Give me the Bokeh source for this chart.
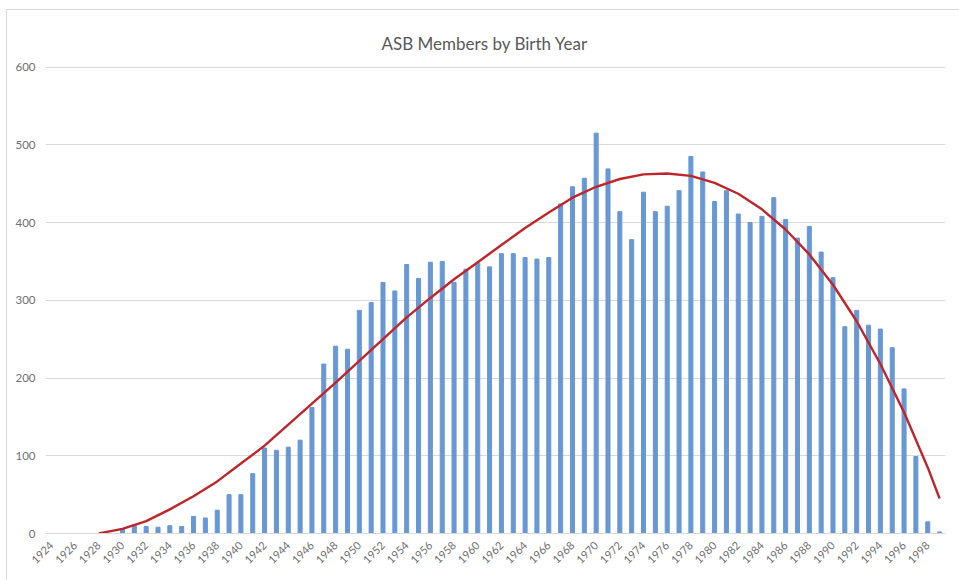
from bokeh.plotting import figure
from bokeh.models import Range1d, FixedTicker
from bokeh.embed import file_html
from bokeh.resources import INLINE

# ---- data ----
years = list(range(1924, 2000))
members = [
    0, 0, 0, 0, 0, 0,            # 1924-1929
    5, 11, 9, 8, 10, 9, 22, 20, 30, 50,          # 1930-1939
    50, 77, 110, 107, 111, 120, 162, 218, 241, 237,  # 1940-1949
    287, 297, 323, 312, 346, 328, 349, 350, 323, 340,  # 1950-1959
    348, 343, 360, 360, 355, 353, 355, 424, 446, 457,  # 1960-1969
    515, 469, 414, 378, 439, 414, 421, 441, 485, 465,  # 1970-1979
    427, 441, 411, 400, 408, 432, 404, 380, 395, 362,  # 1980-1989
    329, 266, 287, 268, 263, 239, 186, 99, 15, 2,      # 1990-1999
]

trend_years = [1928, 1930, 1932, 1934, 1936, 1938, 1940, 1942, 1944, 1946,
               1948, 1950, 1952, 1954, 1956, 1958, 1960, 1962, 1964, 1966,
               1968, 1970, 1972, 1974, 1976, 1978, 1980, 1982, 1984, 1986,
               1988, 1990, 1992, 1994, 1996, 1998, 1999]
trend_values = [0, 6, 16, 31, 48, 67, 90, 113, 140, 167,
                194, 222, 250, 278, 303, 327, 349, 371, 393, 413,
                432, 446, 456, 462, 463, 460, 451, 437, 417, 391,
                359, 320, 273, 218, 156, 85, 45]

y_ticks = [0, 100, 200, 300, 400, 500, 600]
x_ticks = list(range(1924, 2000, 2))

title_text = "ASB Members by Birth Year"

# ---- figure ----
p = figure(width=959, height=580,
           x_range=Range1d(1923.5, 1999.5), y_range=Range1d(0, 602),
           output_backend="svg", toolbar_location=None,
           min_border_left=45, min_border_right=14,
           min_border_top=65, min_border_bottom=47,
           title=title_text)

# light chart-area frame (top and left edges) drawn as CSS background lines
p.styles = {
    "background": ("linear-gradient(#d9d9d9,#d9d9d9) 7px 9px / 100% 1px no-repeat, "
                   "linear-gradient(#d9d9d9,#d9d9d9) 6px 9px / 1px 100% no-repeat, white"),
}

p.vbar(x=years, top=members, width=0.34, color="#6898D4")
p.line(x=trend_years, y=trend_values, color="#BE262C", line_width=2.4)

p.title.align = "left"
p.title.offset = 336
p.title.text_font = "Lato"
p.title.text_font_size = "17px"
p.title.text_font_style = "normal"
p.title.text_color = "#595959"
p.title.standoff = 24

p.outline_line_color = None
p.background_fill_color = "white"
p.border_fill_color = None

p.xgrid.grid_line_color = None
p.ygrid.grid_line_color = "#d9d9d9"
p.ygrid.grid_line_width = 1

p.yaxis.ticker = FixedTicker(ticks=y_ticks)
p.yaxis.axis_line_color = None
p.yaxis.major_tick_line_color = None
p.yaxis.minor_tick_line_color = None
p.yaxis.major_tick_out = 0
p.yaxis.major_tick_in = 0
p.yaxis.major_label_text_font = "Lato"
p.yaxis.major_label_text_font_size = "11.5px"
p.yaxis.major_label_text_color = "#707070"
p.yaxis.major_label_standoff = 10

p.xaxis.ticker = FixedTicker(ticks=x_ticks)
p.xaxis.axis_line_color = "#d9d9d9"
p.xaxis.major_tick_line_color = None
p.xaxis.minor_tick_line_color = None
p.xaxis.major_tick_out = 0
p.xaxis.major_tick_in = 0
p.xaxis.major_label_orientation = 0.785398
p.xaxis.major_label_text_font = "Lato"
p.xaxis.major_label_text_font_size = "11px"
p.xaxis.major_label_text_color = "#707070"
p.xaxis.major_label_standoff = 10

open("out.html", "w").write(file_html(p, INLINE))
